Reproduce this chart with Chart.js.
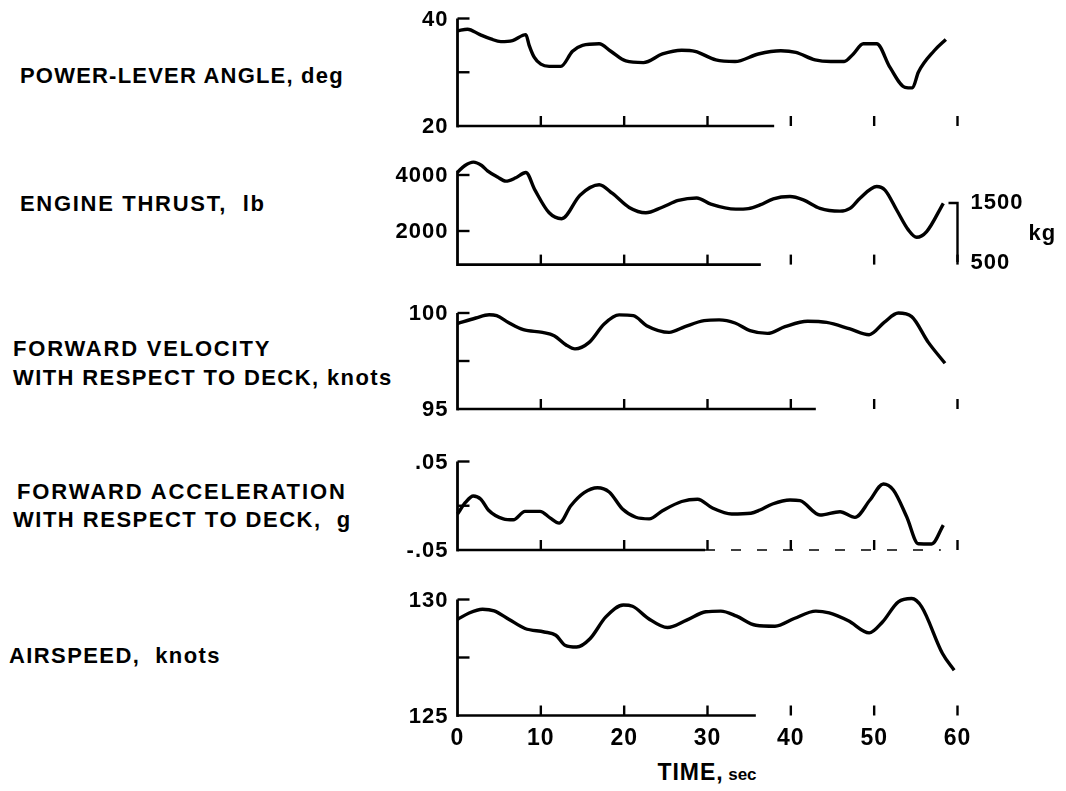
<!DOCTYPE html>
<html>
<head>
<meta charset="utf-8">
<script src="https://cdn.jsdelivr.net/npm/chart.js@4/dist/chart.umd.min.js"></script>
<style>
  html, body { margin: 0; padding: 0; background: #fff; }
  #page { position: relative; width: 1066px; height: 791px; overflow: hidden; background: #fff; }
  canvas { position: absolute; left: 0; }
  .name {
    position: absolute; font-family: "Liberation Sans", Arial, sans-serif; font-weight: bold;
    font-size: 22px; letter-spacing: 1.5px; color: #000; white-space: pre; line-height: 28px;
    transform: translateY(-50%);
  }
  #time {
    position: absolute; left: 707px; top: 772px; transform: translate(-50%, -50%);
    font-family: "Liberation Sans", Arial, sans-serif; font-weight: bold; color: #000; white-space: pre;
  }
</style>
</head>
<body>
<div id="page">
  <div class="name" style="left:20px; top:76px; letter-spacing:1.2px;">POWER-LEVER ANGLE, deg</div>
  <div class="name" style="left:20px; top:204px; letter-spacing:1.7px;">ENGINE THRUST,  lb</div>
  <div class="name" style="left:13px; top:349px; letter-spacing:1.8px;">FORWARD VELOCITY</div>
  <div class="name" style="left:13px; top:378px; letter-spacing:1.4px;">WITH RESPECT TO DECK, knots</div>
  <div class="name" style="left:17px; top:492px; letter-spacing:1.9px;">FORWARD ACCELERATION</div>
  <div class="name" style="left:13px; top:520px; letter-spacing:1.5px;">WITH RESPECT TO DECK,  g</div>
  <div class="name" style="left:9px; top:656px; letter-spacing:1.4px;">AIRSPEED,  knots</div>
  <div id="time"><span style="font-size:23px; letter-spacing:1px;">TIME,</span> <span style="font-size:17px;">sec</span></div>
</div>
<script>
// ---- time axis ----
const timeTicks = [0, 10, 20, 30, 40, 50, 60];

// ---- power-lever angle, deg ----
const plaTime = [0, 1.2, 2.7, 4.0, 5.2, 6.6, 8.2, 8.6, 9.2, 10.0, 11.0, 12.4, 13.8, 15.0, 17.0, 18.4, 20.2, 22.3, 24.6, 26.9, 28.5, 31.0, 33.3, 36.1, 38.8, 40.6, 42.9, 44.8, 46.4, 47.5, 48.7, 50.3, 51.9, 53.7, 54.6, 55.3, 57.2, 58.6];
const plaDeg  = [37.7, 38.0, 37.0, 36.2, 35.7, 35.9, 37.0, 35.0, 32.8, 31.5, 31.1, 31.1, 33.9, 35.0, 35.3, 33.9, 32.1, 31.8, 33.4, 34.1, 33.9, 32.3, 32.0, 33.4, 34.0, 33.7, 32.3, 32.0, 32.0, 33.4, 35.3, 35.3, 30.9, 27.2, 27.1, 30.0, 34.0, 36.1];
const plaTickLabels = ['40', '20'];

// ---- engine thrust, lb ----
const thrustTime = [0, 0.9, 1.9, 2.9, 3.6, 4.8, 5.8, 7.0, 8.2, 9.3, 11.0, 12.5, 14.7, 17.0, 18.6, 20.6, 22.6, 24.5, 26.5, 28.7, 30.4, 33.4, 34.9, 36.3, 37.9, 39.9, 41.5, 43.5, 45.9, 47.1, 48.3, 50.3, 51.3, 52.7, 54.1, 55.1, 56.3, 58.3];
const thrustLb   = [4100, 4340, 4460, 4340, 4150, 3930, 3780, 3900, 4090, 3460, 2650, 2440, 3280, 3650, 3340, 2840, 2650, 2840, 3090, 3180, 2960, 2780, 2800, 2930, 3150, 3230, 3110, 2810, 2710, 2810, 3170, 3590, 3460, 2750, 2040, 1775, 1980, 2990];
const thrustTickLabels = ['4000', '2000'];
const thrustKgLabels = ['1500', '500'];

// ---- forward velocity with respect to deck, knots ----
const velTime  = [0, 2.2, 3.8, 4.7, 6.1, 7.9, 10.2, 11.6, 13.0, 14.1, 15.8, 17.6, 19.4, 21.1, 22.7, 25.4, 27.3, 29.6, 31.4, 33.3, 35.1, 37.2, 39.3, 42.0, 44.3, 47.1, 49.4, 51.2, 52.9, 54.5, 56.5, 58.5];
const velKnots = [99.45, 99.74, 99.91, 99.86, 99.51, 99.13, 98.99, 98.82, 98.35, 98.13, 98.47, 99.43, 99.90, 99.86, 99.34, 98.99, 99.29, 99.60, 99.64, 99.48, 99.08, 98.94, 99.29, 99.57, 99.51, 99.17, 98.87, 99.51, 100.0, 99.81, 98.47, 97.38];
const velTickLabels = ['100', '95'];

// ---- forward acceleration with respect to deck, g ----
const accTime = [0, 0.95, 1.9, 2.8, 3.7, 5.5, 6.7, 8.1, 9.9, 11.1, 12.2, 13.6, 15.2, 16.8, 18.2, 19.8, 21.4, 23.0, 24.6, 26.9, 28.8, 30.6, 32.9, 35.2, 36.3, 37.8, 39.9, 41.1, 43.5, 45.9, 47.7, 49.5, 51.1, 52.3, 53.9, 55.3, 56.9, 58.3];
const accG    = [-0.0093, 0.0037, 0.0111, 0.0074, -0.0048, -0.0148, -0.0159, -0.0063, -0.0063, -0.0137, -0.0196, 0.0, 0.0148, 0.0204, 0.0156, -0.0037, -0.0130, -0.0148, -0.0056, 0.0048, 0.0074, -0.0026, -0.0093, -0.0085, -0.0048, 0.0020, 0.0065, 0.0057, -0.0105, -0.0067, -0.0131, 0.0065, 0.0246, 0.0178, -0.0124, -0.0430, -0.0432, -0.0218];
const accTickLabels = ['.05', '-.05'];

// ---- airspeed, knots ----
const asTime  = [0, 1.4, 3.0, 4.4, 6.2, 8.1, 10.4, 11.8, 12.9, 14.3, 15.9, 17.8, 19.9, 21.0, 22.9, 25.2, 27.5, 29.8, 31.6, 33.5, 35.8, 38.1, 40.4, 43.0, 44.6, 46.9, 49.4, 51.0, 52.9, 54.5, 55.7, 58.2, 59.6];
const asKnots = [129.14, 129.42, 129.58, 129.51, 129.14, 128.75, 128.60, 128.46, 128.03, 127.95, 128.31, 129.25, 129.76, 129.71, 129.18, 128.79, 129.11, 129.47, 129.50, 129.28, 128.89, 128.85, 129.18, 129.50, 129.42, 129.08, 128.56, 129.03, 129.90, 130.04, 129.68, 127.67, 126.95];
const asTickLabels = ['130', '125'];

const FONT = '"Liberation Sans", Arial, sans-serif';

function pts(ts, vs) { return ts.map((t, i) => ({ x: t, y: vs[i] })); }

// Draws the hand-drafted style axes: left spine, inward ticks, time ticks, labels.
const stripAxes = {
  id: 'stripAxes',
  afterDatasetsDraw(chart, args, o) {
    const ctx = chart.ctx, xs = chart.scales.x, ys = chart.scales.y;
    const x0 = xs.getPixelForValue(0);
    const yBase = ys.getPixelForValue(ys.min);
    const seg = (ax, ay, bx, by) => { ctx.beginPath(); ctx.moveTo(ax, ay); ctx.lineTo(bx, by); ctx.stroke(); };
    ctx.save();
    ctx.strokeStyle = '#000';
    ctx.fillStyle = '#000';
    ctx.lineCap = 'butt';
    // spine
    ctx.lineWidth = 2.8;
    seg(x0, ys.getPixelForValue(o.spineTop), x0, yBase + 1.4);
    // inward ticks on the value axis
    ctx.lineWidth = 2.4;
    o.innerTicks.forEach(v => { const y = ys.getPixelForValue(v); seg(x0, y, x0 + 12, y); });
    // time baseline
    ctx.lineWidth = 2.6;
    seg(x0, yBase, xs.getPixelForValue(o.baseEnd), yBase);
    if (o.baseDash) {
      ctx.lineWidth = 1.6;
      ctx.setLineDash([10, 16]);
      seg(xs.getPixelForValue(o.baseEnd), yBase, xs.getPixelForValue(o.baseDash), yBase);
      ctx.setLineDash([]);
    }
    // time ticks
    ctx.lineWidth = 2.4;
    timeTicks.filter(t => t > 0).forEach(t => { const x = xs.getPixelForValue(t); seg(x, yBase, x, yBase - 10); });
    // value labels
    ctx.font = 'bold 22px ' + FONT;
    ctx.letterSpacing = '1px';
    ctx.textAlign = 'right';
    ctx.textBaseline = 'middle';
    o.labels.forEach((lab, i) => ctx.fillText(lab, x0 - 9, ys.getPixelForValue(o.labelValues[i]) + 1));
    // secondary kg bracket
    if (o.kg) {
      const ks = chart.scales.kg;
      const xk = xs.getPixelForValue(60);
      const y1 = ks.getPixelForValue(o.kg.values[0]);
      const y2 = ks.getPixelForValue(o.kg.values[1]);
      ctx.lineWidth = 2.4;
      ctx.beginPath(); ctx.moveTo(xk - 9, y1); ctx.lineTo(xk, y1); ctx.lineTo(xk, y2); ctx.stroke();
      ctx.textAlign = 'left';
      ctx.fillText(o.kg.labels[0], xk + 13, y1);
      ctx.fillText(o.kg.labels[1], xk + 13, y2 + 1);
      ctx.fillText('kg', xk + 71, (y1 + y2) / 2 + 1);
    }
    // time labels under the last strip
    if (o.timeLabels) {
      ctx.font = 'bold 23px ' + FONT;
      ctx.letterSpacing = '1px';
      ctx.textAlign = 'center';
      timeTicks.forEach(t => ctx.fillText(String(t), xs.getPixelForValue(t), yBase + 23));
    }
    ctx.restore();
  }
};

// canvas placement and value ranges of each strip
const strips = [
  { top: 0,   h: 150, padT: 18.5, padB: 24,   min: 20,    max: 40,   data: pts(plaTime, plaDeg),
    axes: { spineTop: 40, innerTicks: [40, 30], labels: plaTickLabels, labelValues: [40, 20], baseEnd: 38 } },
  { top: 150, h: 130, padT: 11,   padB: 15.4, min: 800,   max: 4500, data: pts(thrustTime, thrustLb),
    kgRange: [456, 2212],
    axes: { spineTop: 4150, innerTicks: [4000, 2000], labels: thrustTickLabels, labelValues: [4000, 2000], baseEnd: 36.4,
            kg: { values: [1500, 500], labels: thrustKgLabels } } },
  { top: 280, h: 150, padT: 33,   padB: 21,   min: 95,    max: 100,  data: pts(velTime, velKnots),
    axes: { spineTop: 100, innerTicks: [100, 97.5], labels: velTickLabels, labelValues: [100, 95], baseEnd: 43 } },
  { top: 430, h: 140, padT: 31.5, padB: 20,   min: -0.05, max: 0.05, data: pts(accTime, accG),
    axes: { spineTop: 0.05, innerTicks: [0.05, 0], labels: accTickLabels, labelValues: [0.05, -0.05], baseEnd: 29.7, baseDash: 58 } },
  { top: 570, h: 221, padT: 29.5, padB: 75.5, min: 125,   max: 130,  data: pts(asTime, asKnots),
    axes: { spineTop: 130, innerTicks: [130, 127.5], labels: asTickLabels, labelValues: [130, 125], baseEnd: 35.8, timeLabels: true } }
];

const page = document.getElementById('page');
strips.forEach(s => {
  const cv = document.createElement('canvas');
  cv.width = 1066; cv.height = s.h;
  cv.style.top = s.top + 'px';
  cv.style.width = '1066px'; cv.style.height = s.h + 'px';
  page.appendChild(cv);
  const scales = {
    x: { type: 'linear', axis: 'x', position: 'bottom', min: 0, max: 60, display: false },
    y: { type: 'linear', axis: 'y', position: 'left', min: s.min, max: s.max, display: false }
  };
  if (s.kgRange) scales.kg = { type: 'linear', axis: 'y', position: 'right', min: s.kgRange[0], max: s.kgRange[1], display: false };
  new Chart(cv, {
    type: 'line',
    data: { datasets: [{ data: s.data, borderColor: '#000', borderWidth: 3.4, pointRadius: 0,
                         cubicInterpolationMode: 'monotone', fill: false, clip: false }] },
    options: {
      responsive: false, animation: false, devicePixelRatio: 1,
      layout: { padding: { left: 457.5, right: 108.5, top: s.padT, bottom: s.padB } },
      scales,
      plugins: { legend: { display: false }, tooltip: { enabled: false }, stripAxes: s.axes }
    },
    plugins: [stripAxes]
  });
});
</script>
</body>
</html>
